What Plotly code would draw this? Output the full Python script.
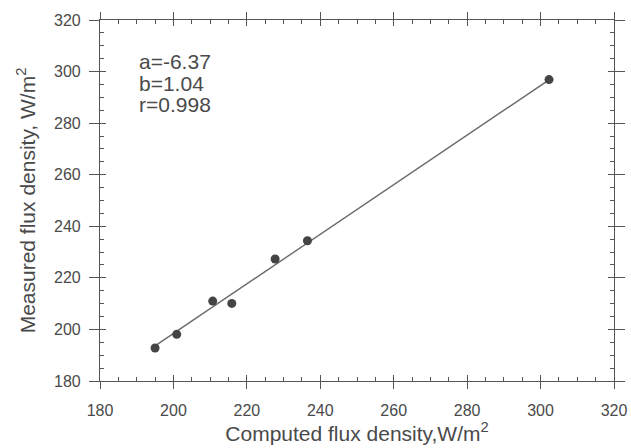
import plotly.graph_objects as go

computed = [195.0, 200.9, 210.7, 215.9, 227.7, 236.5, 302.3]
measured = [192.8, 198.1, 211.0, 210.1, 227.3, 234.4, 296.9]
a = -6.37
b = 1.04
r = 0.998
line_x = [min(computed), max(computed)]
line_y = [(v - a) / b for v in line_x]
tick_vals = [180, 200, 220, 240, 260, 280, 300, 320]
stats_lines = [f"a={a}", f"b={b}", f"r={r}"]
stats_y = [303.8, 295.4, 287.1]

GRAY = "#555555"
TXT = "#4a4a4a"
FONT = "Liberation Sans, Arial, sans-serif"

fig = go.Figure()
fig.add_trace(go.Scatter(x=line_x, y=line_y, mode="lines",
                         line=dict(color="#6a6a6a", width=1.4), showlegend=False))
fig.add_trace(go.Scatter(x=computed, y=measured, mode="markers",
                         marker=dict(color="#444444", size=9), showlegend=False))
fig.add_trace(go.Scatter(x=[180], y=[180], xaxis="x2", yaxis="y2", mode="markers",
                         marker=dict(opacity=0), showlegend=False, hoverinfo="skip"))

common = dict(range=[180, 320], tickvals=tick_vals, showgrid=False, zeroline=False,
              linecolor=GRAY, linewidth=1.2, mirror="ticks", tickcolor=GRAY,
              automargin=False)

fig.update_layout(
    width=631, height=448,
    margin=dict(l=100, r=17, t=20, b=67),
    paper_bgcolor="white", plot_bgcolor="white",
    font=dict(family=FONT, color=TXT),
    xaxis=dict(**common, ticks="outside", ticklen=7, tickwidth=1.2,
               ticklabelstandoff=8,
               tickfont=dict(size=16, color=TXT),
               title=dict(text="Computed flux density,W/m<sup>2</sup>",
                          font=dict(size=21, color=TXT), standoff=6)),
    yaxis=dict(**common, ticks="outside", ticklen=10, tickwidth=1.2,
               ticklabelstandoff=5,
               tickfont=dict(size=16, color=TXT),
               title=dict(text="Measured flux density, W/m<sup>2</sup>",
                          font=dict(size=21, color=TXT), standoff=12)),
    xaxis2=dict(**common, overlaying="x", ticks="inside", ticklen=6, tickwidth=1.2,
                showticklabels=False,
                minor=dict(ticks="inside", ticklen=4, dtick=5, tickcolor=GRAY, tickwidth=1)),
    yaxis2=dict(**common, overlaying="y", ticks="inside", ticklen=6, tickwidth=1.2,
                showticklabels=False,
                minor=dict(ticks="inside", ticklen=4, dtick=5, tickcolor=GRAY, tickwidth=1)),
)

for txt, yv in zip(stats_lines, stats_y):
    fig.add_annotation(x=190.2, y=yv, xref="x", yref="y", xanchor="left", yanchor="middle",
                       text=txt, showarrow=False, align="left",
                       font=dict(size=21, color=TXT, family=FONT))

fig.write_html("out.html", config={"displayModeBar": False},
               post_script="document.body.style.margin='0';")
